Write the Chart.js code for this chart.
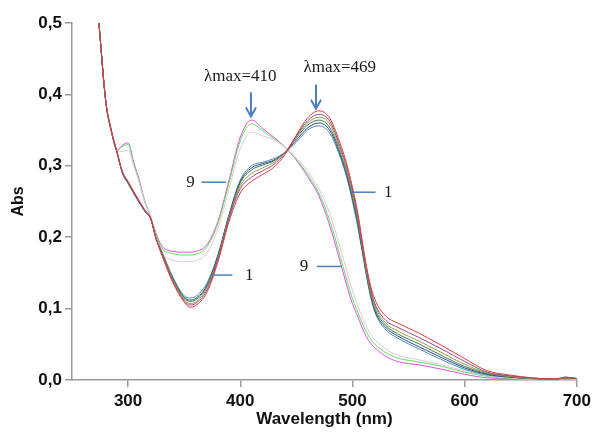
<!DOCTYPE html>
<html>
<head>
<meta charset="utf-8">
<script src="https://cdn.jsdelivr.net/npm/chart.js@4.4.1/dist/chart.umd.min.js"></script>
<style>
  html, body { margin: 0; padding: 0; background: #fff; }
  #wrap { width: 595px; height: 432px; }
</style>
</head>
<body>
<div id="wrap"><canvas id="spectra" width="595" height="432"></canvas></div>
<script>
// wavelengths (nm)
const wavelengths = [274, 280, 285, 290, 295, 300, 305, 310, 315, 320, 325, 330, 340, 350, 355, 360, 370, 380, 390, 400,
  410, 420, 430, 440, 450, 460, 470, 480, 490, 495, 500, 505, 510, 515, 520, 530, 540, 560, 580, 600, 620, 640, 660, 680, 690, 700];

// spectra 1..6 (peak near 469 nm)
const abs1 = [.500, .392, .350, .320, .292, .278, .264, .251, .238, .227, .197, .175, .136, .109, .102, .104, .122, .165, .222, .262,
  .278, .288, .298, .316, .343, .367, .377, .366, .327, .302, .270, .232, .182, .140, .113, .089, .080, .065, .048, .030, .013, .007, .003, .001, .004, .002];
const abs2 = [.500, .392, .350, .320, .291, .277, .263, .250, .237, .227, .198, .177, .138, .111, .105, .107, .125, .168, .226, .268,
  .284, .293, .302, .318, .342, .363, .372, .362, .322, .298, .266, .228, .178, .136, .107, .083, .074, .059, .043, .026, .011, .006, .003, .001, .004, .002];
const abs3 = [.500, .392, .349, .320, .291, .277, .263, .250, .237, .227, .198, .178, .140, .113, .107, .109, .128, .170, .228, .272,
  .289, .297, .305, .319, .341, .360, .368, .358, .318, .294, .262, .224, .175, .132, .104, .079, .069, .054, .038, .022, .010, .005, .002, .001, .003, .002];
const abs4 = [.500, .391, .349, .320, .290, .276, .262, .249, .237, .227, .198, .179, .141, .115, .110, .112, .130, .172, .230, .276,
  .294, .301, .307, .319, .339, .357, .364, .353, .314, .290, .258, .220, .172, .129, .100, .076, .065, .050, .034, .019, .009, .005, .002, .001, .003, .002];
const abs5 = [.500, .391, .348, .319, .290, .276, .262, .249, .236, .226, .198, .179, .142, .116, .112, .114, .132, .174, .231, .278,
  .297, .303, .308, .319, .336, .353, .360, .349, .311, .286, .254, .216, .170, .127, .097, .073, .062, .046, .031, .017, .008, .004, .002, .001, .003, .002];
const abs6 = [.500, .391, .348, .319, .289, .275, .261, .248, .236, .226, .198, .180, .144, .118, .115, .117, .135, .175, .232, .280,
  .300, .305, .310, .319, .333, .350, .356, .345, .308, .283, .250, .212, .168, .125, .095, .070, .059, .043, .028, .015, .007, .004, .002, .001, .003, .002];

// spectra 7..9 (peak near 410 nm)
const abs7 = [.500, .392, .350, .321, .320, .322, .300, .276, .248, .229, .200, .178, .168, .166, .166, .167, .177, .212, .268, .324,
  .347, .342, .336, .326, .311, .292, .268, .232, .180, .152, .125, .103, .083, .067, .056, .043, .035, .028, .021, .013, .006, .003, .001, .001, .002, .001];
const abs8 = [.500, .392, .350, .322, .327, .330, .303, .278, .249, .229, .203, .185, .177, .175, .175, .176, .186, .219, .276, .335,
  .359, .349, .338, .326, .309, .288, .262, .222, .168, .140, .114, .094, .075, .060, .050, .038, .031, .025, .019, .011, .005, .002, .001, .001, .002, .001];
const abs9 = [.500, .392, .350, .322, .329, .332, .305, .280, .250, .229, .205, .188, .180, .179, .179, .180, .189, .222, .280, .340,
  .364, .352, .340, .326, .308, .285, .258, .215, .160, .132, .107, .088, .068, .054, .045, .033, .026, .021, .015, .008, .003, .002, .001, .001, .002, .001];

const seriesValues = [abs1, abs2, abs3, abs4, abs5, abs6, abs7, abs8, abs9];
const seriesColors = ['#e33a3a', '#8e4a8a', '#9c9a3c', '#2f7f55', '#34488f', '#4d8fa8', '#e2c6d6', '#5ee05e', '#e04ee0'];

const xTicks = [300, 400, 500, 600, 700];
const yTicks = [0, 0.1, 0.2, 0.3, 0.4, 0.5];

// annotations, in data units
const peakText = ['\u03bbmax=410', '\u03bbmax=469'];
const peakTextNm = [400, 488.7];
const peakTextAbs = [0.425, 0.438];
const arrowNm = [409.5, 467.5];
const arrowTop = [0.403, 0.414];
const arrowTip = [0.369, 0.380];

const tagText = ['9', '1', '9', '1'];
const tagNm = [355.6, 532, 456.7, 408];
const tagAbs = [0.277, 0.263, 0.159, 0.147];
const leaderFrom = [365.4, 499.3, 468.3, 375];
const leaderTo = [387.5, 520.6, 490.5, 393];

const annotate = {
  id: 'annotate',
  afterDatasetsDraw(chart) {
    const { ctx, scales: { x, y } } = chart;
    ctx.save();
    ctx.strokeStyle = '#4a7ebb';
    ctx.lineWidth = 2;
    arrowNm.forEach((nm, i) => {
      const px = x.getPixelForValue(nm);
      const y0 = y.getPixelForValue(arrowTop[i]);
      const y1 = y.getPixelForValue(arrowTip[i]);
      ctx.beginPath();
      ctx.moveTo(px, y0);
      ctx.lineTo(px, y1);
      ctx.moveTo(px - 5, y1 - 9);
      ctx.lineTo(px, y1);
      ctx.lineTo(px + 5, y1 - 9);
      ctx.stroke();
    });
    ctx.lineWidth = 1.5;
    leaderFrom.forEach((nm, i) => {
      const py = y.getPixelForValue(tagAbs[i]);
      ctx.beginPath();
      ctx.moveTo(x.getPixelForValue(nm), py);
      ctx.lineTo(x.getPixelForValue(leaderTo[i]), py);
      ctx.stroke();
    });
    ctx.fillStyle = '#1a1a1a';
    ctx.textAlign = 'center';
    ctx.textBaseline = 'middle';
    ctx.font = '17px "Liberation Serif", "Times New Roman", serif';
    peakText.forEach((t, i) => {
      ctx.fillText(t, x.getPixelForValue(peakTextNm[i]), y.getPixelForValue(peakTextAbs[i]));
    });
    tagText.forEach((t, i) => {
      ctx.fillText(t, x.getPixelForValue(tagNm[i]), y.getPixelForValue(tagAbs[i]));
    });
    ctx.restore();
  }
};

const datasets = seriesValues.map((vals, i) => ({
  label: String(i + 1),
  data: wavelengths.map((w, k) => ({ x: w, y: vals[k] })),
  borderColor: seriesColors[i],
  borderWidth: 1,
  pointRadius: 0,
  fill: false,
  cubicInterpolationMode: 'monotone'
}));

const tickFont = { family: 'Arial, "Liberation Sans", sans-serif', size: 17, weight: 'bold' };

new Chart(document.getElementById('spectra'), {
  type: 'line',
  data: { datasets },
  plugins: [annotate],
  options: {
    responsive: false,
    animation: false,
    layout: { padding: { top: 23, right: 15, bottom: 0, left: 0 } },
    plugins: { legend: { display: false }, tooltip: { enabled: false } },
    scales: {
      x: {
        type: 'linear',
        min: 250,
        max: 700,
        afterBuildTicks: s => { s.ticks = xTicks.map(v => ({ value: v })); },
        afterFit: s => { s.height = 52; },
        border: { color: '#9a9a9a', width: 1.5 },
        grid: { drawOnChartArea: false, tickLength: 7, color: '#9a9a9a', lineWidth: 1.5 },
        ticks: { color: '#111', font: tickFont, padding: 4, maxRotation: 0 },
        title: { display: true, text: 'Wavelength (nm)', color: '#111',
          font: { family: 'Arial, "Liberation Sans", sans-serif', size: 17, weight: 'bold' },
          padding: { top: 0, bottom: 2 } }
      },
      y: {
        min: 0,
        max: 0.5,
        afterBuildTicks: s => { s.ticks = yTicks.map(v => ({ value: v })); },
        afterFit: s => { s.width = 72; },
        border: { color: '#9a9a9a', width: 1.5 },
        grid: { drawOnChartArea: false, tickLength: 7, color: '#9a9a9a', lineWidth: 1.5 },
        ticks: { color: '#111', font: tickFont, padding: 3,
          callback: v => v.toFixed(1).replace('.', ',') },
        title: { display: true, text: 'Abs', color: '#111',
          font: { family: 'Arial, "Liberation Sans", sans-serif', size: 16, weight: 'bold' },
          padding: { top: 9, bottom: 0 } }
      }
    }
  }
});
</script>
</body>
</html>
